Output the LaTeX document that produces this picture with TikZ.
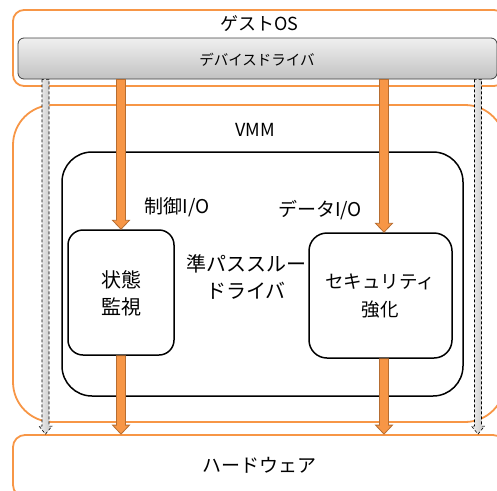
\documentclass[tikz,border=0pt]{standalone}
\usepackage{fontspec}
\newfontfamily\jp{Noto Sans CJK JP}
\usetikzlibrary{calc}
\definecolor{org}{HTML}{F79646}
\definecolor{orgdark}{HTML}{B66D31}
\newcommand\blockarr[6]{%
  \path[#1] let \p1=#2, \p2=#3 in
    (\x1-#4,\y1) -- (\x1-#4,\y2+#6) -- (\x1-#5,\y2+#6) -- (\x1,\y2)
    -- (\x1+#5,\y2+#6) -- (\x1+#4,\y2+#6) -- (\x1+#4,\y1) -- cycle;}
\tikzset{
  obox/.style={draw=org, line width=1.8pt, rectangle, inner sep=0pt},
  bbox/.style={draw=black, line width=1.5pt, rectangle, inner sep=0pt, fill=white},
  lbl/.style={font={\jp\fontsize{19}{27}\selectfont}, inner sep=0pt, align=center},
  oarr/.style={fill=org, draw=orgdark, line width=0.8pt},
  garr/.style={left color=gray!12, right color=gray!45, draw=black, line width=0.6pt, dash pattern=on 3pt off 2pt},
}
\begin{document}
\begin{tikzpicture}[x=1pt,y=-1pt]
\useasboundingbox (0,0) rectangle (497,490);
% boxes
\node[obox, rounded corners=11pt, minimum width=492pt, minimum height=76pt] (guest) at (259,48) {};
\node[lbl, font={\jp\fontsize{18}{20}\selectfont}] (guestl) at (259.5,24) {ゲストOS};
\node[draw={black!75}, line width=0.8pt, rounded corners=6pt, top color={black!6}, bottom color={black!24},
      minimum width=479pt, minimum height=41pt, inner sep=0pt] (dd) at (257.5,58.5) {};
\node[lbl, font={\jp\fontsize{14.5}{16}\selectfont}] (ddl) at (257,60) {デバイスドライバ};
\node[obox, rounded corners=40pt, minimum width=492pt, minimum height=317pt] (vmm) at (259,263.5) {};
\node[lbl, font={\jp\fontsize{18}{20}\selectfont}] (vmml) at (255,130) {VMM};
\node[obox, rounded corners=12pt, minimum width=492pt, minimum height=62pt] (hw) at (259,466) {};
\node[lbl] (hwl) at (259,465) {ハードウェア};
\node[bbox, rounded corners=30pt, minimum width=401pt, minimum height=244pt] (inner) at (262.5,274) {};
\node[bbox, rounded corners=15pt, minimum width=106pt, minimum height=125pt] (mon) at (121,292.5) {};
\node[lbl, font={\jp\fontsize{20}{27}\selectfont}] (monl) at (121,293.5) {状態\\監視};
\node[bbox, rounded corners=18pt, minimum width=143pt, minimum height=125pt] (sec) at (380.5,295.5) {};
\node[lbl, font={\jp\fontsize{18.5}{28}\selectfont}] (secl) at (380,296) {セキュリティ\\強化};
\node[lbl, font={\jp\fontsize{20}{27}\selectfont}] (pass) at (246,276.5) {準パススルー\\ドライバ};
\node[lbl] (ctl) at (177,207) {制御I/O};
\node[lbl] (dat) at (320,210) {データI/O};
% arrow columns
\coordinate (gl) at (45.5,0);
\coordinate (gr) at (478,0);
% gray dashed arrows
\blockarr{garr}{(gl |- dd.south)}{(gl |- hw.north)}{3.5pt}{6.5pt}{8pt}
\blockarr{garr}{(gr |- dd.south)}{(gr |- hw.north)}{3.5pt}{6.5pt}{8pt}
% orange arrows
\blockarr{oarr}{(mon.north |- dd.south)}{(mon.north)}{4.5pt}{8.5pt}{9pt}
\blockarr{oarr}{(384,0 |- dd.south)}{(384,0 |- sec.north)}{4.5pt}{8.5pt}{9pt}
\blockarr{oarr}{(mon.south)}{(mon.south |- hw.north)}{4.5pt}{8.5pt}{9pt}
\blockarr{oarr}{(384,0 |- sec.south)}{(384,0 |- hw.north)}{4.5pt}{8.5pt}{9pt}
\end{tikzpicture}
\end{document}
